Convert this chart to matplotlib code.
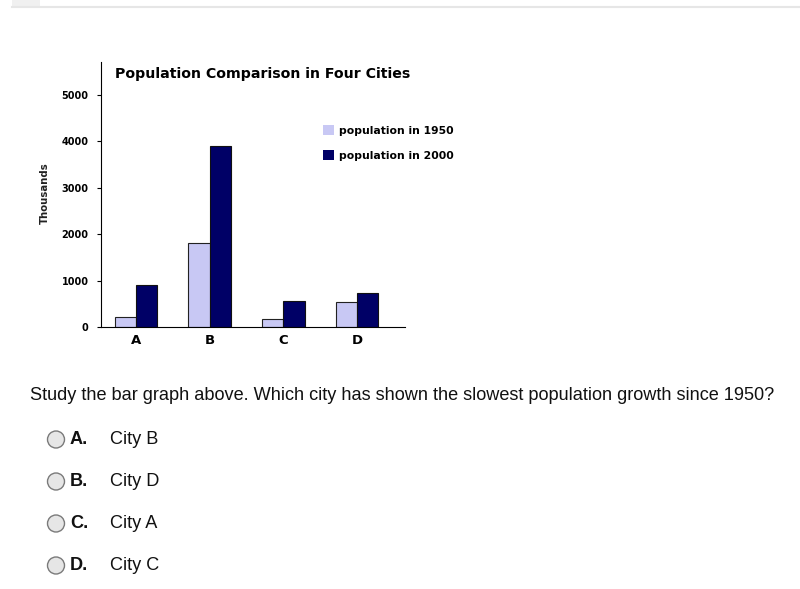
import matplotlib
matplotlib.use("Agg")
import matplotlib.pyplot as plt
from matplotlib.patches import Rectangle, Circle, Patch
from matplotlib.lines import Line2D
import numpy as np

cities = ["A", "B", "C", "D"]
pop_1950 = [210, 1800, 170, 540]
pop_2000 = [900, 3900, 560, 730]
series_labels = ["population in 1950", "population in 2000"]
yticks = [0, 1000, 2000, 3000, 4000, 5000]

question = "Study the bar graph above. Which city has shown the slowest population growth since 1950?"
option_letters = ["A.", "B.", "C.", "D."]
option_texts = ["City B", "City D", "City A", "City C"]

W, H = 800, 589
fig = plt.figure(figsize=(8, 5.89), dpi=100)
fig.patch.set_facecolor("white")

def fx(px):
    return px / W

def fy(py):
    return 1 - py / H

# page decoration at top
fig.add_artist(Line2D([fx(12), fx(800)], [fy(7), fy(7)], color="#e6e6e6", lw=1.5))
fig.add_artist(Rectangle((fx(12), fy(6)), fx(28), 6 / H, color="#f0f0f0", lw=0))

# chart axes
ax = fig.add_axes([fx(101), fy(327), fx(405 - 101), (327 - 62) / H])
x = np.arange(len(cities))
bw = 0.29
light = "#c8c8f4"
dark = "#000066"
ax.bar(x - bw / 2, pop_1950, width=bw, color=light, edgecolor="#222222", lw=0.8)
ax.bar(x + bw / 2, pop_2000, width=bw, color=dark, edgecolor="#111111", lw=0.8)
ax.set_xlim(-0.475, 3.65)
ax.set_ylim(0, 5710)
ax.set_yticks(yticks)
ax.set_yticklabels([str(v) for v in yticks], fontsize=7, fontweight="bold", family="DejaVu Sans")
ax.set_xticks(x)
ax.set_xticklabels(cities, fontsize=9.5, fontweight="bold", family="DejaVu Sans")
ax.tick_params(axis="x", length=0, pad=5)
ax.tick_params(axis="y", length=3, width=0.8, pad=6)
for s in ["top", "right"]:
    ax.spines[s].set_visible(False)
ax.spines["left"].set_linewidth(0.8)
ax.spines["bottom"].set_linewidth(0.8)
ax.set_facecolor("none")

fig.text(fx(115), fy(74), "Population Comparison in Four Cities", fontsize=10.2, fontweight="bold",
         family="DejaVu Sans", ha="left", va="center")
fig.text(fx(45), fy(193), "Thousands", fontsize=7.3, fontweight="bold", family="DejaVu Sans",
         rotation=90, ha="center", va="center", color="#222222")

handles = [Patch(facecolor=light, edgecolor="none"), Patch(facecolor=dark, edgecolor="none")]
leg = fig.legend(handles=handles, labels=series_labels, loc="upper left",
                 bbox_to_anchor=(fx(323), fy(125)), frameon=False,
                 prop={"family": "DejaVu Sans", "size": 7.8, "weight": "bold"},
                 handlelength=1.0, handleheight=1.05, handletextpad=0.5, labelspacing=1.35,
                 borderaxespad=0, borderpad=0)

# question text
fs = 13.1
fig.text(fx(30), fy(395), question, fontsize=fs, family="Liberation Sans", ha="left", va="center",
         color="#111111")
for i, (letter, txt) in enumerate(zip(option_letters, option_texts)):
    yc = 439.5 + 42 * i
    circ = Circle((56, H - yc), 8.5, transform=None, facecolor="#e6e6e6", edgecolor="#7a7a7a", lw=1.0)
    fig.add_artist(circ)
    fig.text(fx(70), fy(yc), letter, fontsize=fs, fontweight="bold", family="Liberation Sans",
             ha="left", va="center", color="#111111")
    fig.text(fx(110), fy(yc), txt, fontsize=fs, family="Liberation Sans", ha="left", va="center",
             color="#111111")

fig.savefig("out.png", dpi=100)
